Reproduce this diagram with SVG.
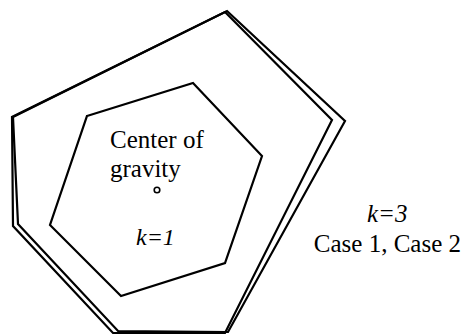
<svg xmlns="http://www.w3.org/2000/svg" width="463" height="335" viewBox="0 0 463 335">
<style>
.poly{fill:none;stroke:#000;stroke-width:2.2;stroke-linejoin:miter}
.t{font-family:"Liberation Serif","Times New Roman","DejaVu Serif",serif;font-size:25px;fill:#000}
.i{font-style:italic}
</style>
<rect width="463" height="335" fill="#fff"/>
<g id="outer-case2">
<polygon class="poly" points="227,11 345,121 228,332 118,331 18,224 13,117"/>
</g>
<g id="outer-case1">
<polygon class="poly" points="225,12 332,120 225,333 113,333 13,226 12,117"/>
</g>
<g id="inner-k1">
<polygon class="poly" points="87,116 193,83 262,156 225,263 121,296 50,225"/>
</g>
<g id="center">
<text class="t" x="110" y="148">Center of</text>
<text class="t" x="110" y="177">gravity</text>
<circle cx="157" cy="190" r="2.8" fill="#fff" stroke="#000" stroke-width="1.6"/>
</g>
<g id="label-k1">
<text class="t i" x="136" y="245" style="font-size:24px">k=1</text>
</g>
<g id="label-k3">
<text class="t i" x="367" y="222">k=3</text>
<text class="t" x="461" y="252" text-anchor="end">Case 1, Case 2</text>
</g>
</svg>
